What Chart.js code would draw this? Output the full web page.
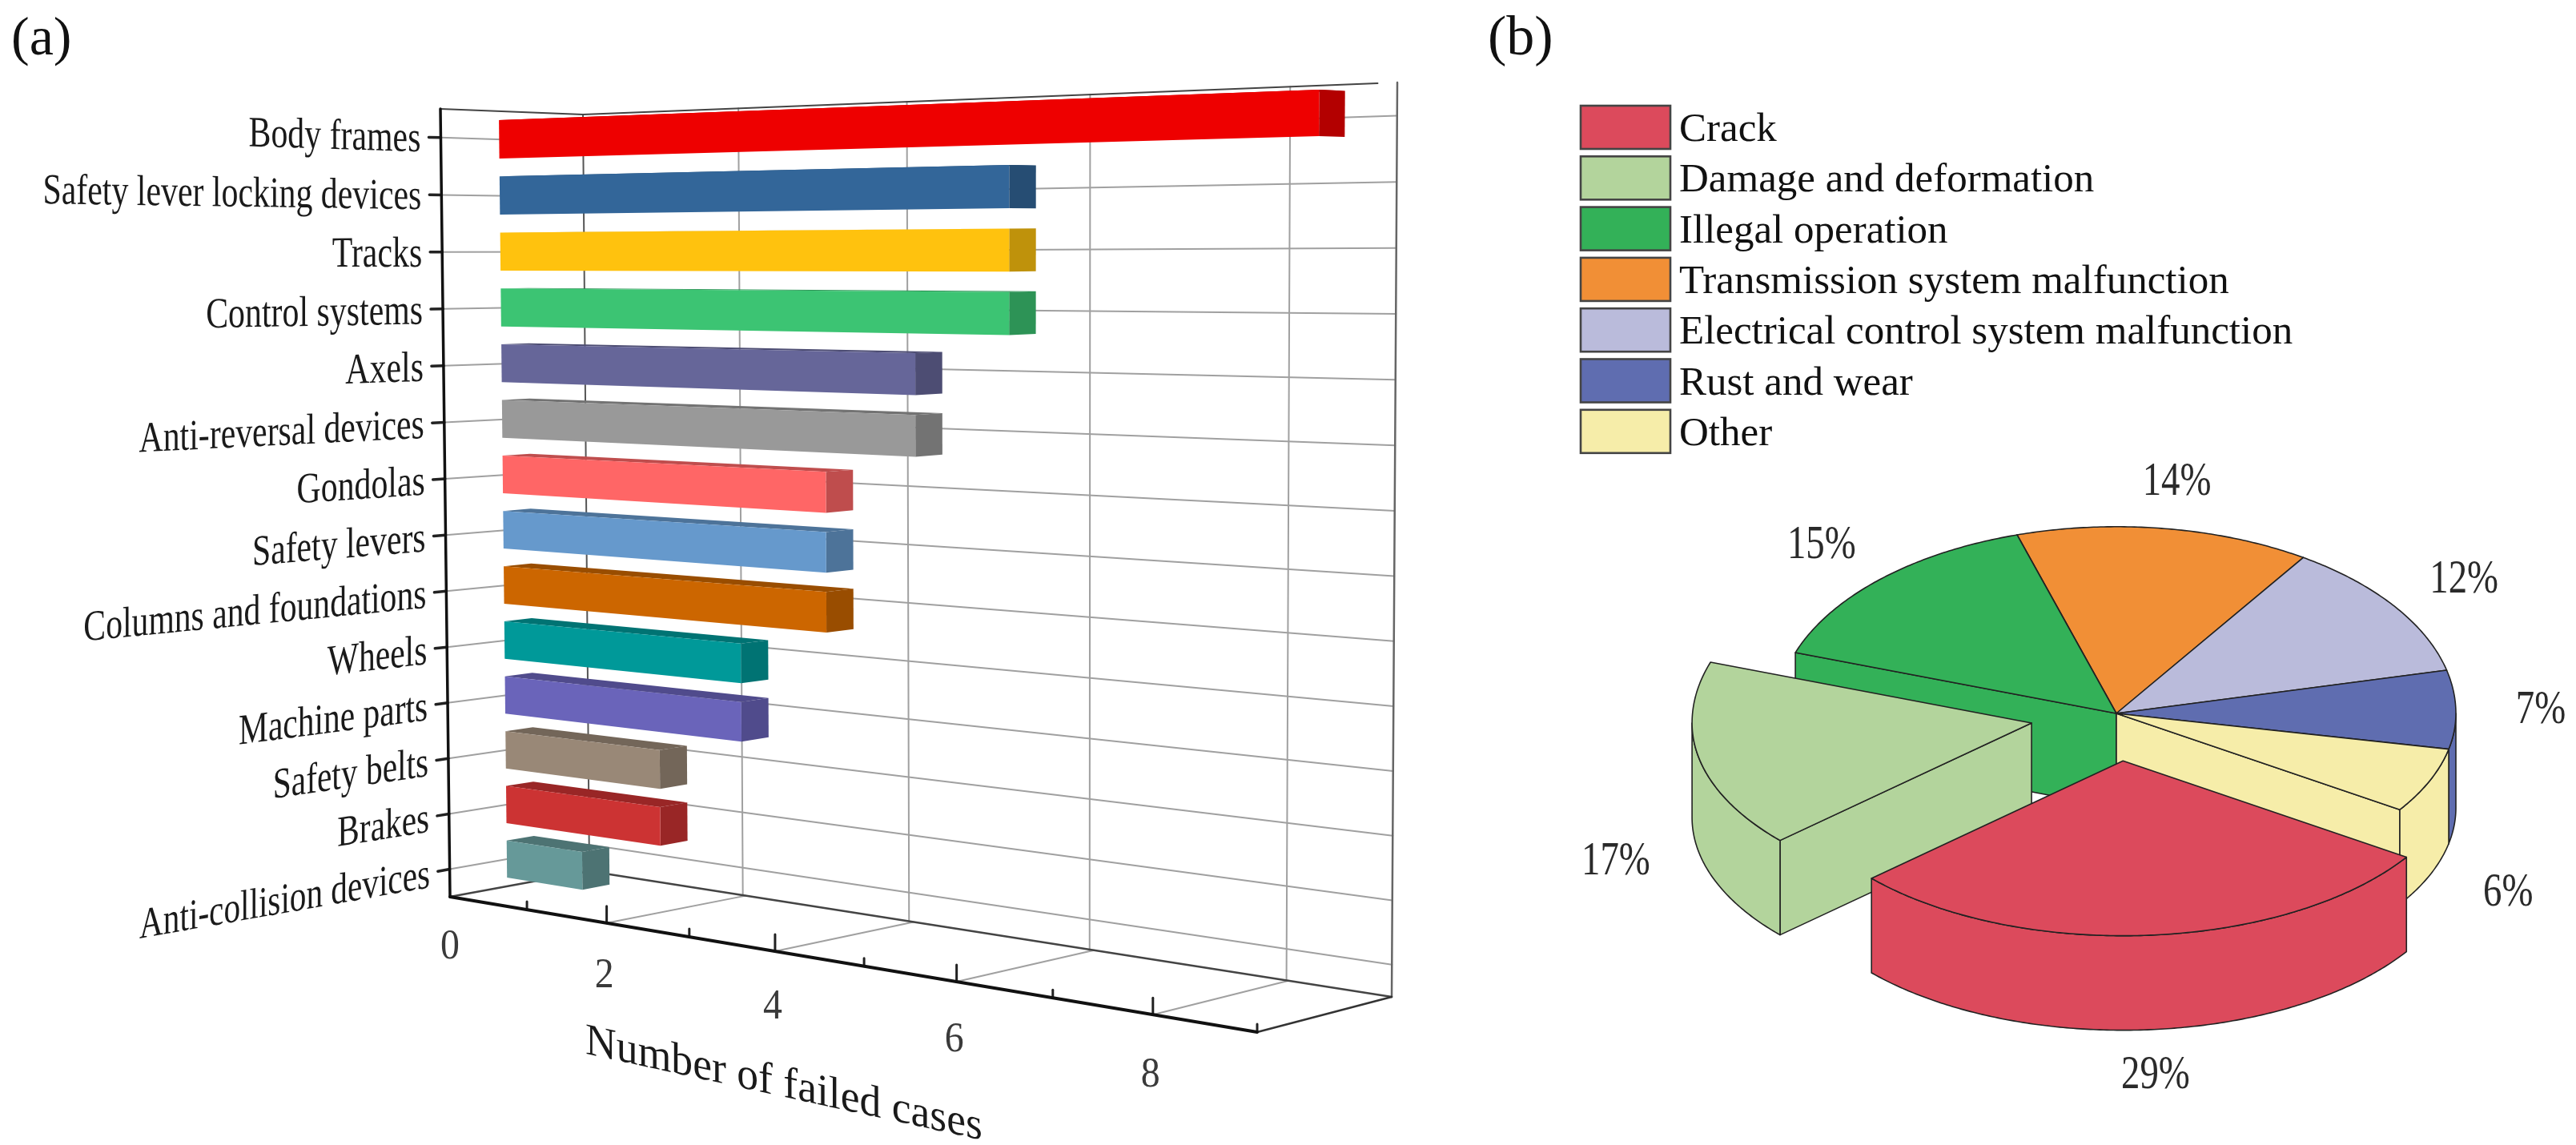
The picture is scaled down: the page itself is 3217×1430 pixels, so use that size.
<!DOCTYPE html>
<html>
<head>
<meta charset="utf-8">
<title>Failed cases</title>
<script src="https://cdn.jsdelivr.net/npm/chart.js@4"></script>
<style>
  html, body { margin: 0; padding: 0; background: #fff; }
  body { position: relative; width: 3217px; height: 1430px; overflow: hidden; }
  canvas { position: absolute; top: 0; }
  #barChart { left: 0; }
  #pieChart { left: 1760px; }
</style>
</head>
<body>
<canvas id="barChart" width="1760" height="1430"></canvas>
<canvas id="pieChart" width="1457" height="1430"></canvas>
<script>
const partNames = ['Body frames', 'Safety lever locking devices', 'Tracks', 'Control systems', 'Axels',
  'Anti-reversal devices', 'Gondolas', 'Safety levers', 'Columns and foundations', 'Wheels',
  'Machine parts', 'Safety belts', 'Brakes', 'Anti-collision devices'];
const failedCases = [9, 6, 6, 6, 5, 5, 4, 4, 4, 3, 3, 2, 2, 1];
const partColors = ['#EE0000', '#336699', '#FFC20E', '#3CC473', '#666699', '#999999', '#FF6666',
  '#6699CC', '#CC6600', '#009999', '#6A64BA', '#998877', '#CC3333', '#669999'];
const valueTicks = [0, 2, 4, 6, 8];
const valueMax = 9;

const causeNames = ['Crack', 'Damage and deformation', 'Illegal operation', 'Transmission system malfunction',
  'Electrical control system malfunction', 'Rust and wear', 'Other'];
const causeShares = [29, 17, 15, 14, 12, 7, 6];
const causeColors = ['#DC4A5C', '#B3D49C', '#33B158', '#F18F36', '#BABBDB', '#5F6DB0', '#F6EDA9'];
const causeExplode = [0.255, 0.255, 0, 0, 0, 0, 0];

const SERIF = '"Liberation Serif", "Times New Roman", serif';

// corners of the 3d box on screen
const box = {
  frontTL: [550, 136], frontTR: [1580, 95], frontBR: [1570, 1289], frontBL: [562, 1120],
  backTL: [728, 143], backTR: [1745, 103], backBR: [1738, 1245], backBL: [736, 1088]
};
const BAR_FRONT = 0.41, BAR_BACK = 0.605;

// maps the unit square onto a quad: p0 (0,0), p1 (1,0), p2 (1,1), p3 (0,1)
function quadMap(p0, p1, p2, p3) {
  const dx1 = p1[0] - p2[0], dx2 = p3[0] - p2[0], dx3 = p0[0] - p1[0] + p2[0] - p3[0];
  const dy1 = p1[1] - p2[1], dy2 = p3[1] - p2[1], dy3 = p0[1] - p1[1] + p2[1] - p3[1];
  const den = dx1 * dy2 - dx2 * dy1;
  const g = (dx3 * dy2 - dx2 * dy3) / den, h = (dx1 * dy3 - dx3 * dy1) / den;
  const a = p1[0] - p0[0] + g * p1[0], b = p3[0] - p0[0] + h * p3[0];
  const d = p1[1] - p0[1] + g * p1[1], e = p3[1] - p0[1] + h * p3[1];
  return (u, v) => {
    const w = g * u + h * v + 1;
    return [(a * u + b * v + p0[0]) / w, (d * u + e * v + p0[1]) / w];
  };
}

function lerp(p, q, t) { return [p[0] + (q[0] - p[0]) * t, p[1] + (q[1] - p[1]) * t]; }

function planeAt(depth) {
  return quadMap(lerp(box.frontTL, box.backTL, depth), lerp(box.frontTR, box.backTR, depth),
    lerp(box.frontBR, box.backBR, depth), lerp(box.frontBL, box.backBL, depth));
}

const backWall = planeAt(1);
const barFront = planeAt(BAR_FRONT);
const barBack = planeAt(BAR_BACK);
const floorPlane = quadMap(box.frontBL, box.frontBR, box.backBR, box.backBL);
const leftWall = quadMap(box.frontTL, box.backTL, box.backBL, box.frontBL);

function line(ctx, p, q, color, width) {
  ctx.strokeStyle = color;
  ctx.lineWidth = width;
  ctx.beginPath();
  ctx.moveTo(p[0], p[1]);
  ctx.lineTo(q[0], q[1]);
  ctx.stroke();
}

function poly(ctx, pts, color) {
  ctx.fillStyle = color;
  ctx.beginPath();
  pts.forEach((p, i) => i ? ctx.lineTo(p[0], p[1]) : ctx.moveTo(p[0], p[1]));
  ctx.closePath();
  ctx.fill();
}

function darker(hex, k) {
  const n = parseInt(hex.slice(1), 16);
  const c = [n >> 16, (n >> 8) & 255, n & 255].map(x => Math.round(x * k));
  return 'rgb(' + c.join(',') + ')';
}

function sheared(ctx, text, x, y, angle, sx, font, color, align) {
  ctx.save();
  ctx.transform(Math.cos(angle) * sx, Math.sin(angle) * sx, 0, 1, x, y);
  ctx.font = font;
  ctx.fillStyle = color;
  ctx.textAlign = align;
  ctx.textBaseline = 'middle';
  ctx.fillText(text, 0, 0);
  ctx.restore();
}

const box3d = {
  id: 'box3d',
  beforeDatasetsDraw(chart) {
    const ctx = chart.ctx, xs = chart.scales.x, ys = chart.scales.y;
    const GRID = '#A0A0A0', EDGE = '#222';
    ctx.save();
    ctx.lineCap = 'round';

    // category lines across left wall and back wall
    partNames.forEach((name, i) => {
      const v = (ys.getPixelForValue(i) - ys.top) / ys.height;
      const p = leftWall(0, v), q = leftWall(1, v), r = backWall(1, v);
      line(ctx, p, q, GRID, 2);
      line(ctx, q, r, GRID, 2);
      const len = Math.hypot(q[0] - p[0], q[1] - p[1]);
      const dir = [(q[0] - p[0]) / len, (q[1] - p[1]) / len];
      line(ctx, [p[0] - dir[0] * 15, p[1] - dir[1] * 15], p, EDGE, 3.5);
      sheared(ctx, name, p[0] - dir[0] * 25, p[1] - dir[1] * 25 + 4, Math.atan2(dir[1], dir[0]), 0.775,
        '54px ' + SERIF, '#1a1a1a', 'right');
    });

    // value lines on back wall and floor, ticks on the front edge
    xs.ticks.forEach(t => {
      const u = (xs.getPixelForValue(t.value) - xs.left) / xs.width;
      const p = floorPlane(u, 0);
      const major = valueTicks.includes(t.value);
      if (major && t.value > 0) {
        line(ctx, p, floorPlane(u, 1), GRID, 2);
        line(ctx, backWall(u, 0), backWall(u, 1), GRID, 2);
      }
      if (t.value > 0) {
        line(ctx, p, [p[0], p[1] - (major ? 21 : 10)], EDGE, 3);
      }
      if (major) {
        sheared(ctx, String(t.value), p[0] - (t.value ? 3 : 0), p[1] + 63 + t.value * 1.7, 0, 0.92,
          '52px ' + SERIF, '#3a3a3a', 'center');
      }
    });

    // frame
    line(ctx, backWall(0, 0), backWall(0, 1), '#555', 2);
    line(ctx, backWall(1, 0), backWall(1, 1), '#666', 2.5);
    line(ctx, backWall(0, 1), backWall(1, 1), '#444', 2.5);
    line(ctx, backWall(0, 0), backWall(0.98, 0), '#444', 2);
    line(ctx, box.frontTL, box.backTL, '#444', 2);
    line(ctx, box.frontBL, box.backBL, '#444', 2.5);
    line(ctx, box.frontBR, box.backBR, '#333', 2.5);
    line(ctx, box.frontTL, box.frontBL, '#111', 3.5);
    line(ctx, box.frontBL, box.frontBR, '#111', 4);
    ctx.restore();
  },
  beforeDatasetDraw(chart) {
    const ctx = chart.ctx, xs = chart.scales.x, ys = chart.scales.y;
    chart.getDatasetMeta(0).data.forEach((bar, i) => {
      const u0 = (bar.base - xs.left) / xs.width;
      const u1 = (bar.x - xs.left) / xs.width;
      const v0 = (bar.y - bar.height / 2 - ys.top) / ys.height;
      const v1 = (bar.y + bar.height / 2 - ys.top) / ys.height;
      const shade = darker(partColors[i], 0.75);
      poly(ctx, [barFront(u0, v0), barFront(u1, v0), barBack(u1, v0), barBack(u0, v0)], shade);
      poly(ctx, [barFront(u1, v0), barBack(u1, v0), barBack(u1, v1), barFront(u1, v1)], shade);
      poly(ctx, [barFront(u0, v0), barFront(u1, v0), barFront(u1, v1), barFront(u0, v1)], partColors[i]);
    });
    return false;
  },
  afterDraw(chart) {
    const ctx = chart.ctx;
    ctx.font = '68px ' + SERIF;
    ctx.fillStyle = '#111';
    ctx.textAlign = 'left';
    ctx.textBaseline = 'alphabetic';
    ctx.fillText('(a)', 14, 68);
    sheared(ctx, 'Number of failed cases', 979, 1355, 12.3 * Math.PI / 180, 0.98, '56px ' + SERIF, '#1a1a1a', 'center');
  }
};

new Chart(document.getElementById('barChart'), {
  type: 'bar',
  data: {
    labels: partNames,
    datasets: [{
      label: 'Number of failed cases',
      data: failedCases,
      backgroundColor: partColors,
      categoryPercentage: 1,
      barPercentage: 0.68
    }]
  },
  options: {
    indexAxis: 'y',
    responsive: false,
    animation: false,
    devicePixelRatio: 1,
    plugins: { legend: { display: false }, tooltip: { enabled: false } },
    scales: {
      x: { display: false, min: 0, max: valueMax, ticks: { stepSize: 1 } },
      y: { display: false }
    }
  },
  plugins: [box3d]
});

// pie: the near half of the disc is a bit flatter than the far half
const TILT_BACK = 0.55, TILT_FRONT = 0.515, TILT_LABEL = 0.52, PIE_DEPTH = 118, LABEL_RADIUS = 1.25;

function rimPoint(cx, cy, rx, t) {
  const s = Math.sin(t);
  return [cx + rx * Math.cos(t), cy + rx * (s > 0 ? TILT_FRONT : TILT_BACK) * s];
}

function tracePath(ctx, cx, cy, rx, from, to) {
  const n = Math.ceil(Math.abs(to - from) / 0.01);
  for (let i = 0; i <= n; i++) {
    const p = rimPoint(cx, cy, rx, from + (to - from) * i / n);
    ctx.lineTo(p[0], p[1]);
  }
}

function rim(ctx, cx, cy, rx, a, b) {
  for (let k = 0; k < 2; k++) {
    const from = Math.max(a, 2 * Math.PI * k), to = Math.min(b, Math.PI + 2 * Math.PI * k);
    if (to <= from) continue;
    ctx.beginPath();
    tracePath(ctx, cx, cy, rx, from, to);
    tracePath(ctx, cx, cy + PIE_DEPTH, rx, to, from);
    ctx.closePath();
    ctx.fill();
    ctx.stroke();
  }
}

function cutFace(ctx, cx, cy, rx, angle) {
  const p = rimPoint(cx, cy, rx, angle);
  ctx.beginPath();
  ctx.moveTo(cx, cy);
  ctx.lineTo(p[0], p[1]);
  ctx.lineTo(p[0], p[1] + PIE_DEPTH);
  ctx.lineTo(cx, cy + PIE_DEPTH);
  ctx.closePath();
  ctx.fill();
  ctx.stroke();
}

const pie3d = {
  id: 'pie3d',
  beforeDatasetDraw(chart) {
    const ctx = chart.ctx;
    const arcs = chart.getDatasetMeta(0).data;
    const mid = i => (arcs[i].startAngle + arcs[i].endAngle) / 2;
    const order = arcs.map((arc, i) => i).sort((m, n) => Math.sin(mid(m)) - Math.sin(mid(n)));
    ctx.save();
    ctx.lineJoin = 'round';
    ctx.lineWidth = 1.6;
    ctx.strokeStyle = '#222';
    order.forEach(i => {
      const arc = arcs[i], a = arc.startAngle, b = arc.endAngle;
      const rx = arc.outerRadius;
      const cx = arc.x + rx * causeExplode[i] * Math.cos(mid(i));
      const cy = arc.y + rx * TILT_BACK * causeExplode[i] * Math.sin(mid(i));
      ctx.fillStyle = causeColors[i];
      if (Math.cos(a) < 0) cutFace(ctx, cx, cy, rx, a);
      if (Math.cos(b) > 0) cutFace(ctx, cx, cy, rx, b);
      rim(ctx, cx, cy, rx, a, b);
      ctx.beginPath();
      ctx.moveTo(cx, cy);
      tracePath(ctx, cx, cy, rx, a, b);
      ctx.closePath();
      ctx.fill();
      ctx.stroke();
    });
    ctx.restore();

    arcs.forEach((arc, i) => {
      const s = Math.sin(mid(i)), rx = arc.outerRadius;
      const x = arc.x + rx * (causeExplode[i] + LABEL_RADIUS) * Math.cos(mid(i));
      const y = s > 0
        ? arc.y + rx * (TILT_BACK * causeExplode[i] + TILT_LABEL * LABEL_RADIUS) * s + PIE_DEPTH
        : arc.y + rx * TILT_BACK * LABEL_RADIUS * s;
      sheared(ctx, causeShares[i] + '%', x, y, 0, 0.78, '60px ' + SERIF, '#2a2a2a', 'center');
    });
    return false;
  },
  afterDraw(chart) {
    const ctx = chart.ctx;
    ctx.font = '70px ' + SERIF;
    ctx.fillStyle = '#111';
    ctx.textAlign = 'left';
    ctx.textBaseline = 'alphabetic';
    ctx.fillText('(b)', 98, 68);
    causeNames.forEach((name, i) => {
      const top = 132 + i * 63.3;
      ctx.fillStyle = causeColors[i];
      ctx.strokeStyle = '#444';
      ctx.lineWidth = 2.6;
      ctx.fillRect(214, top, 112, 54);
      ctx.strokeRect(214, top, 112, 54);
      ctx.font = '51px ' + SERIF;
      ctx.fillStyle = '#111';
      ctx.fillText(name, 337, top + 44);
    });
  }
};

new Chart(document.getElementById('pieChart'), {
  type: 'pie',
  data: {
    labels: causeNames,
    datasets: [{ data: causeShares, backgroundColor: causeColors, borderWidth: 0 }]
  },
  options: {
    responsive: false,
    animation: false,
    devicePixelRatio: 1,
    rotation: 123.4,
    layout: { padding: { left: 459, right: 150, top: 467, bottom: 115 } },
    plugins: { legend: { display: false }, tooltip: { enabled: false } }
  },
  plugins: [pie3d]
});
</script>
</body>
</html>
